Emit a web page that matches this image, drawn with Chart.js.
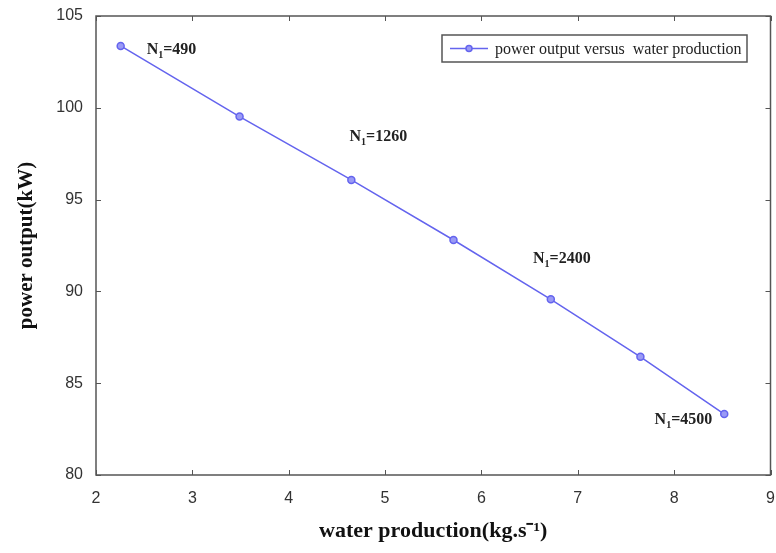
<!DOCTYPE html>
<html>
<head>
<meta charset="utf-8">
<script src="https://cdn.jsdelivr.net/npm/chart.js@4"></script>
<style>
  html, body { margin: 0; padding: 0; background: #fff; }
  #wrap { width: 776px; height: 553px; }
</style>
</head>
<body>
<div id="wrap"><canvas id="grafico"></canvas></div>
<script>
// water production (kg/s) vs power output (kW)
const waterProduction = [2.256, 3.49, 4.65, 5.71, 6.72, 7.65, 8.52];
const powerOutput = [103.37, 99.52, 96.07, 92.80, 89.57, 86.44, 83.32];
// N1 labels attached to points (null = no label)
const pointLabels = ['490', null, '1260', null, '2400', null, '4500'];
const xTicks = [2, 3, 4, 5, 6, 7, 8, 9];
const yTicks = [80, 85, 90, 95, 100, 105];

const corLinha = '#6464ee';

// box, inward ticks, N1 labels and legend
const extras = {
  id: 'extras',
  afterDraw(chart) {
    const c = chart.ctx;
    const a = chart.chartArea;
    const sx = chart.scales.x, sy = chart.scales.y;
    c.save();
    c.strokeStyle = '#555';
    c.lineWidth = 1.5;
    c.strokeRect(a.left, a.top, a.right - a.left, a.bottom - a.top);
    c.lineWidth = 1;
    c.beginPath();
    xTicks.forEach(v => {
      const px = Math.round(sx.getPixelForValue(v)) + 0.5;
      c.moveTo(px, a.bottom); c.lineTo(px, a.bottom - 5);
      c.moveTo(px, a.top); c.lineTo(px, a.top + 5);
    });
    yTicks.forEach(v => {
      const py = Math.round(sy.getPixelForValue(v)) + 0.5;
      c.moveTo(a.left, py); c.lineTo(a.left + 5, py);
      c.moveTo(a.right, py); c.lineTo(a.right - 5, py);
    });
    c.stroke();

    // N1 labels
    const offs = [[26, 4, 'left'], null, [27, -43, 'center'], null, [11, -40, 'center'], null, [-12, 6, 'right']];
    const meta = chart.getDatasetMeta(0);
    c.fillStyle = '#222';
    c.textBaseline = 'middle';
    pointLabels.forEach((lab, i) => {
      if (!lab) return;
      const p = meta.data[i];
      const o = offs[i];
      const big = 'bold 16px "Liberation Serif"';
      const small = 'bold 10px "Liberation Serif"';
      const rest = '=' + lab;
      c.font = big; const wN = c.measureText('N').width; const wR = c.measureText(rest).width;
      c.font = small; const w1 = c.measureText('1').width;
      const total = wN + w1 + wR;
      let x0 = p.x + o[0];
      if (o[2] === 'center') x0 -= total / 2;
      if (o[2] === 'right') x0 -= total;
      const y0 = p.y + o[1];
      c.textAlign = 'left';
      c.font = big; c.fillText('N', x0, y0);
      c.font = small; c.fillText('1', x0 + wN, y0 + 5);
      c.font = big; c.fillText(rest, x0 + wN + w1, y0);
    });

    // legend box
    const lx = 442, ly = 35, lw = 305, lh = 27;
    c.fillStyle = '#fff';
    c.fillRect(lx, ly, lw, lh);
    c.strokeStyle = '#555';
    c.lineWidth = 1.5;
    c.strokeRect(lx, ly, lw, lh);
    c.strokeStyle = corLinha;
    c.lineWidth = 1.5;
    c.beginPath(); c.moveTo(450, ly + lh / 2); c.lineTo(488, ly + lh / 2); c.stroke();
    c.beginPath(); c.arc(469, ly + lh / 2, 3, 0, Math.PI * 2);
    c.fillStyle = '#9a9af5'; c.fill(); c.stroke();
    c.fillStyle = '#222';
    c.font = '16px "Liberation Serif"';
    c.textAlign = 'left';
    c.fillText(chart.data.datasets[0].label, 495, ly + lh / 2 + 1);
    c.restore();
  }
};

new Chart(document.getElementById('grafico').getContext('2d'), {
  type: 'line',
  data: {
    datasets: [{
      label: 'power output versus  water production',
      data: waterProduction.map((x, i) => ({ x: x, y: powerOutput[i] })),
      borderColor: corLinha,
      backgroundColor: '#9a9af5',
      borderWidth: 1.5,
      pointRadius: 3.5,
      pointBorderWidth: 1.5,
      pointBorderColor: corLinha,
      fill: false,
      tension: 0
    }]
  },
  options: {
    responsive: true,
    maintainAspectRatio: false,
    animation: false,
    layout: { padding: { top: 16, right: 4, left: 0, bottom: 0 } },
    plugins: { legend: { display: false }, tooltip: { enabled: false } },
    scales: {
      x: {
        type: 'linear', min: 2, max: 9,
        afterBuildTicks: s => { s.ticks = xTicks.map(v => ({ value: v })); },
        afterFit: s => { s.height = 78; s.paddingLeft = 0; s.paddingRight = 0; },
        grid: { display: false },
        border: { display: false },
        ticks: { color: '#333', font: { family: '"Liberation Sans"', size: 16 }, padding: 6 },
        title: {
          display: true,
          text: 'water production(kg.s\u207B\u00B9)',
          color: '#111',
          font: { family: '"Liberation Serif"', size: 22, weight: 'bold' },
          padding: { top: 0, bottom: 8 }
        }
      },
      y: {
        type: 'linear', min: 80, max: 105,
        afterBuildTicks: s => { s.ticks = yTicks.map(v => ({ value: v })); },
        afterFit: s => { s.width = 96; s.paddingTop = 0; s.paddingBottom = 0; },
        grid: { display: false },
        border: { display: false },
        ticks: { color: '#333', font: { family: '"Liberation Sans"', size: 16 }, padding: 5 },
        title: {
          display: true,
          text: 'power output(kW)',
          color: '#111',
          font: { family: '"Liberation Serif"', size: 21, weight: 'bold' },
          padding: { top: 14, bottom: 0 }
        }
      }
    }
  },
  plugins: [extras]
});
</script>
</body>
</html>
